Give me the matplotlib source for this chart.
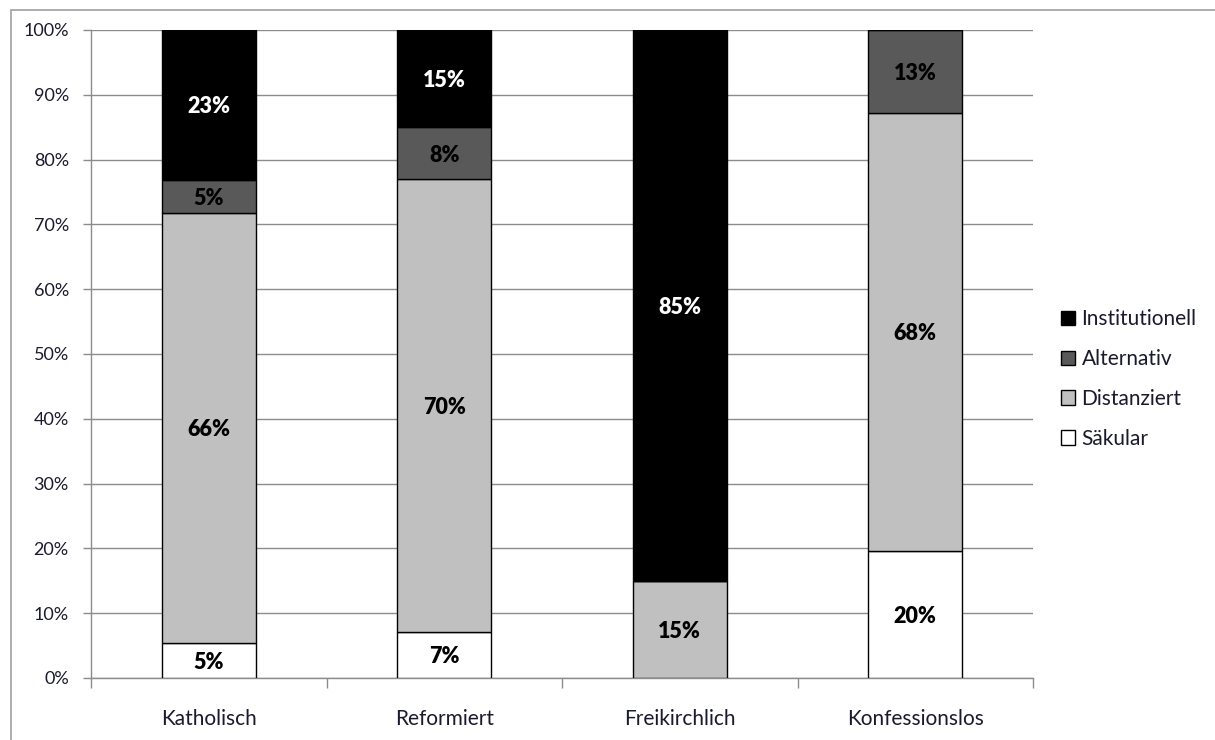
import numpy as np
import matplotlib.pyplot as plt
from matplotlib.patches import Rectangle

categories = ['Katholisch', 'Reformiert', 'Freikirchlich', 'Konfessionslos']
series = ['Säkular', 'Distanziert', 'Alternativ', 'Institutionell']
# segment heights in percent (bottom to top)
saekular = [5.4, 7.1, 0.0, 19.6]
distanziert = [66.4, 69.9, 15.0, 67.6]
alternativ = [5.1, 8.0, 0.0, 12.8]
institutionell = [23.1, 15.0, 85.0, 0.0]
labels = [
    ['5%', '7%', '', '20%'],
    ['66%', '70%', '15%', '68%'],
    ['5%', '8%', '', '13%'],
    ['23%', '15%', '85%', ''],
]

colors = ['#ffffff', '#c0c0c0', '#595959', '#000000']
text_colors = ['black', 'black', 'black', 'white']
font = ['Lato', 'DejaVu Sans']
plt.rcParams['font.family'] = font

fig = plt.figure(figsize=(12.15, 7.4), dpi=100)
# outer chart frame (only left and top edges visible)
fig.patches.append(Rectangle((11 / 1215, -0.1), 1.2, (740 - 10) / 740 + 0.1,
                             transform=fig.transFigure, fill=False,
                             edgecolor='#a0a0a0', linewidth=1.2))

ax = fig.add_axes([91 / 1215, 1 - 678 / 740, (1033 - 91) / 1215, (678 - 30) / 740])
x = np.arange(len(categories))
data = [saekular, distanziert, alternativ, institutionell]
bottom = np.zeros(len(categories))
handles = []
for i, vals in enumerate(data):
    vals = np.array(vals)
    b = ax.bar(x, vals, width=0.4, bottom=bottom, color=colors[i],
               edgecolor='black', linewidth=1.0, zorder=3, label=series[i])
    handles.append(b)
    for j, v in enumerate(vals):
        if labels[i][j]:
            ax.text(x[j], bottom[j] + v / 2, labels[i][j], ha='center',
                    va='center_baseline', fontsize=15.5, fontweight='heavy',
                    color=text_colors[i], zorder=4)
    bottom += vals

ax.set_xlim(-0.5, len(categories) - 0.5)
ax.set_ylim(0, 100)
ax.set_yticks(np.arange(0, 101, 10))
ax.set_yticklabels([f'{v}%' for v in range(0, 101, 10)], fontsize=13, color='#1a1a2e')
ax.yaxis.grid(True, color='#8c8c8c', linewidth=1.0, zorder=0)
ax.set_axisbelow(True)

ax.set_xticks(x)
ax.set_xticklabels(categories, fontsize=15, color='#1a1a2e')
ax.tick_params(axis='x', length=0, pad=22)
ax.set_xticks(np.arange(-0.5, len(categories)), minor=True)
ax.tick_params(axis='x', which='minor', length=7, color='#8c8c8c', width=1.0)
ax.tick_params(axis='y', length=6, color='#8c8c8c', width=1.0, pad=10)

for s in ['top', 'right']:
    ax.spines[s].set_visible(False)
for s in ['left', 'bottom']:
    ax.spines[s].set_color('#8c8c8c')
    ax.spines[s].set_linewidth(1.0)

leg = fig.legend(handles[::-1], series[::-1], loc='center left',
                 bbox_to_anchor=(1042 / 1215, 1 - 379 / 740), frameon=False,
                 fontsize=15, handlelength=0.7, handleheight=0.7,
                 handletextpad=0.3, labelspacing=0.95)
for t in leg.get_texts():
    t.set_color('#1a1a2e')

fig.savefig('out.png', dpi=100)
